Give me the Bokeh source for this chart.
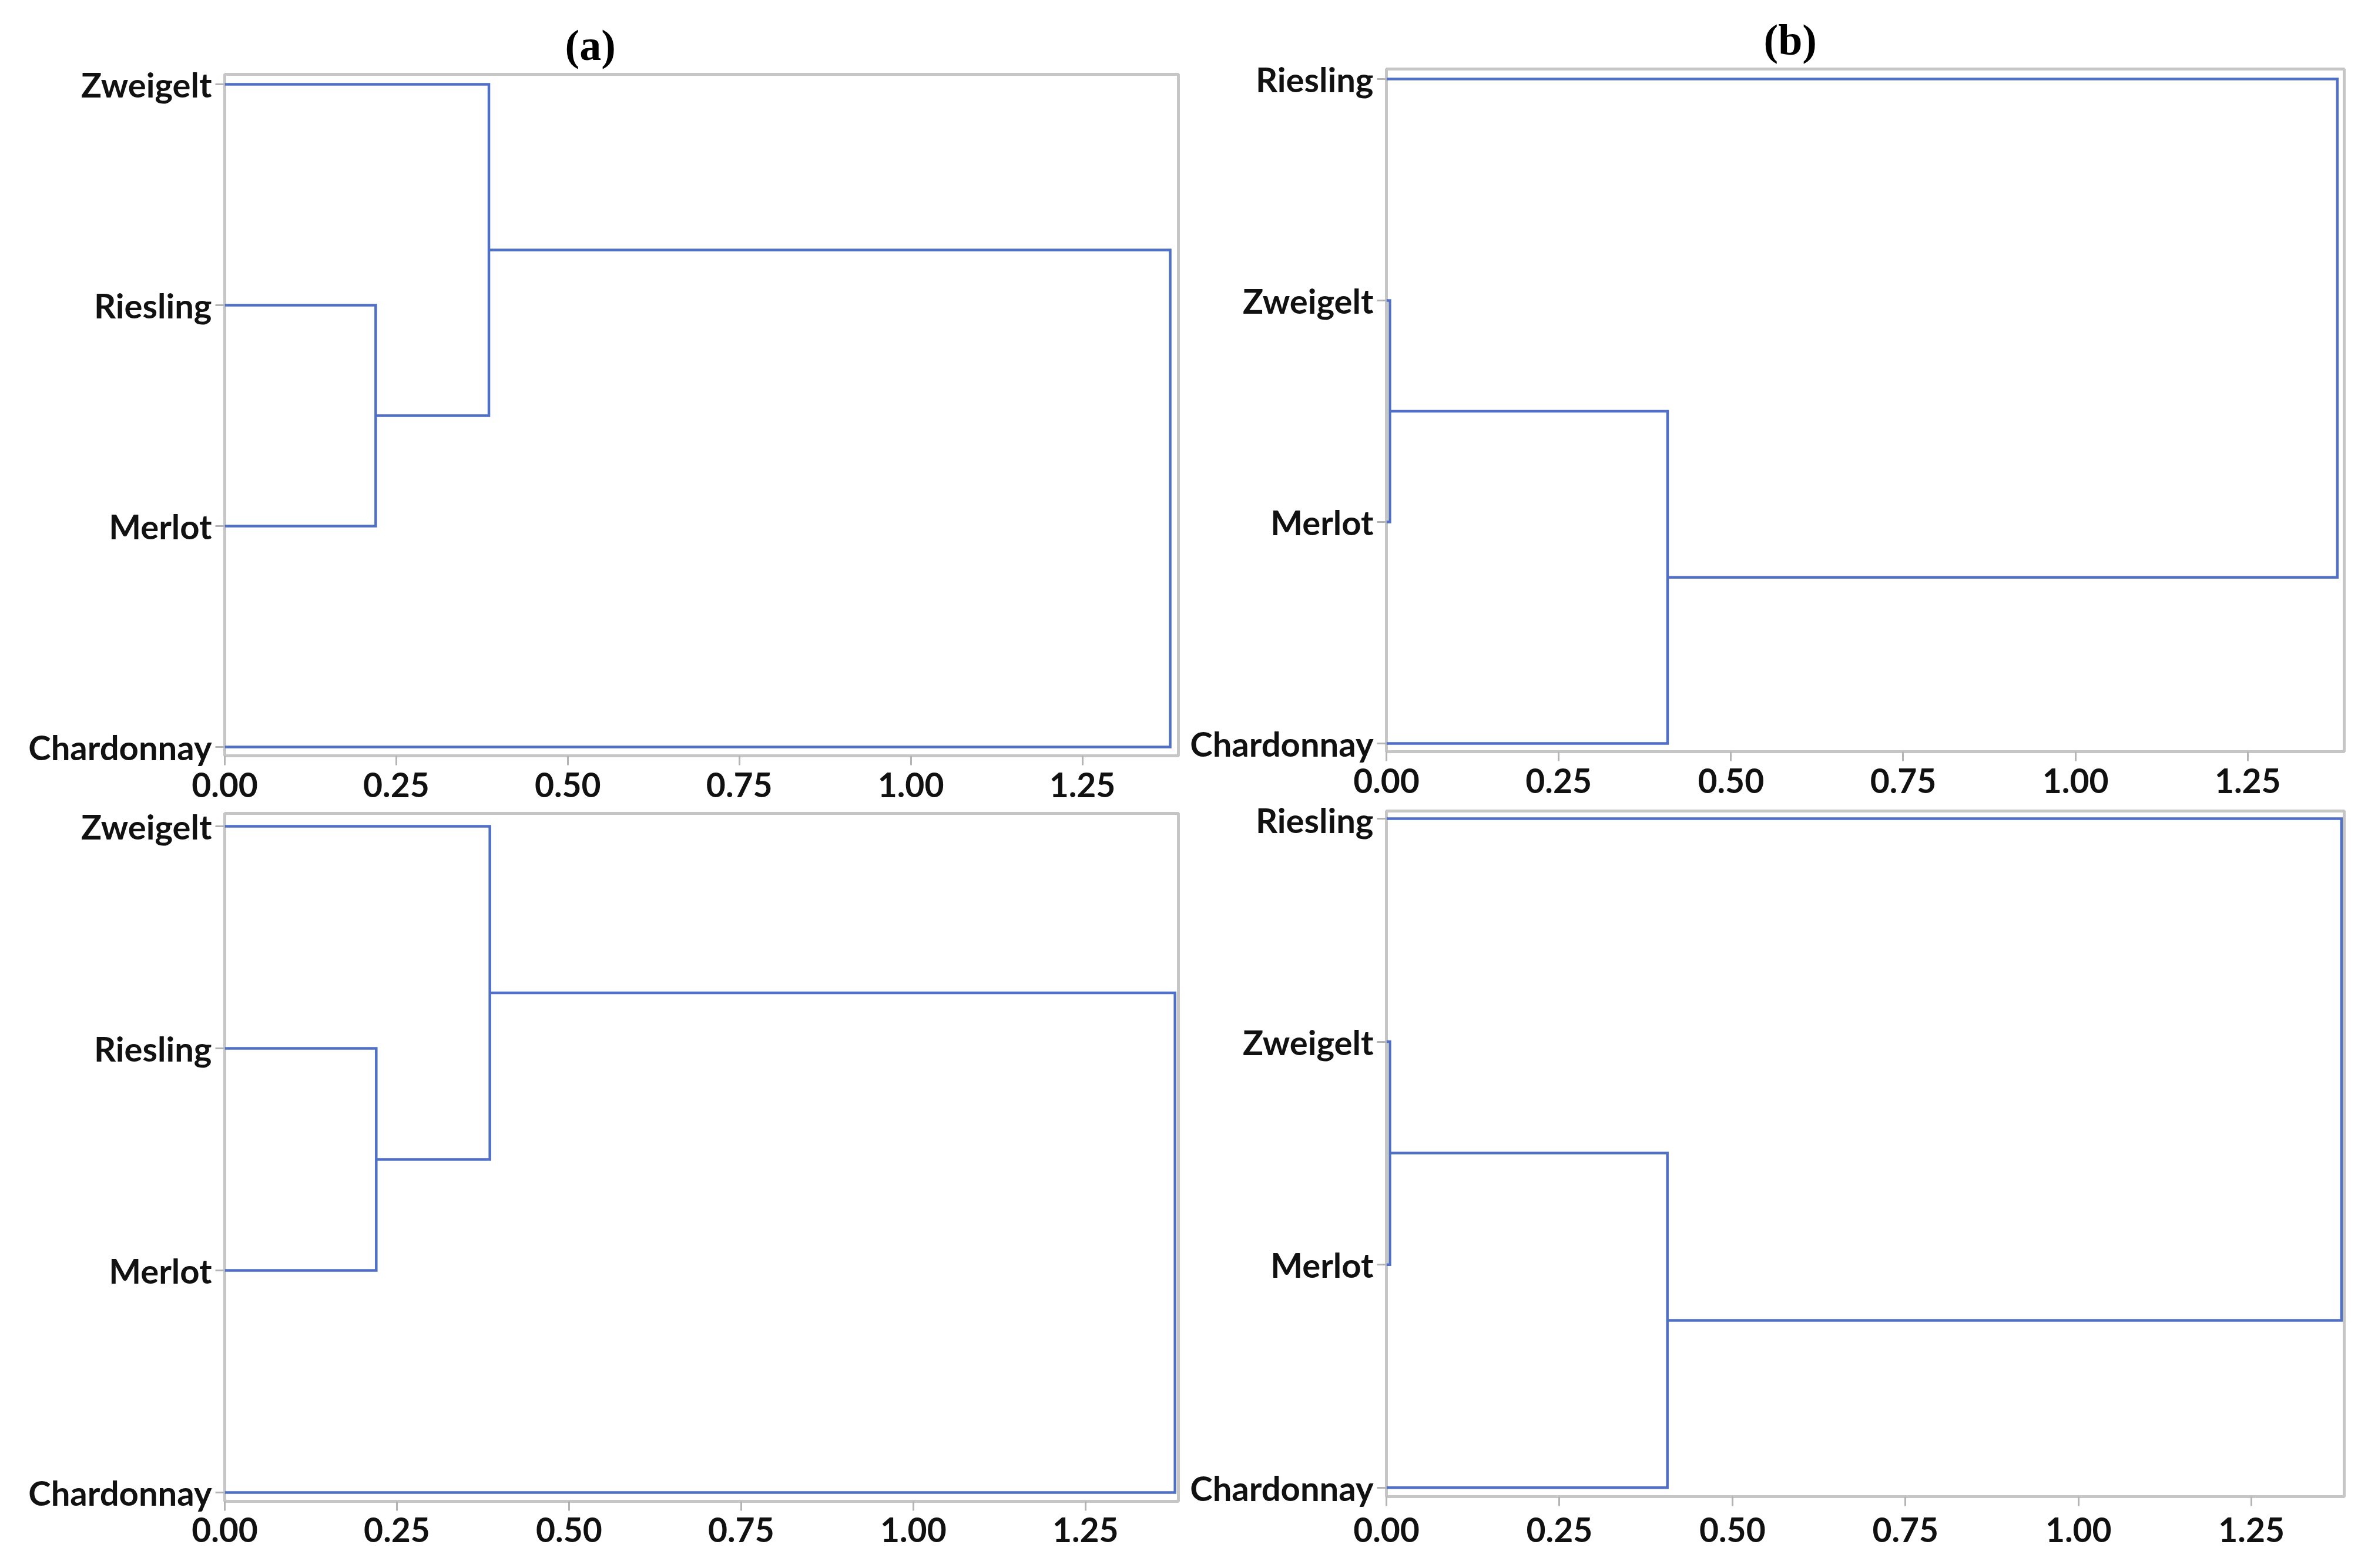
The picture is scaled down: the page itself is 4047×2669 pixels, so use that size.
from bokeh.plotting import figure
from bokeh.layouts import row, column
from bokeh.models import Range1d, FixedTicker, PrintfTickFormatter
from bokeh.embed import file_html
from bokeh.resources import INLINE

# ---------------- data ----------------
# leaf order (top to bottom) and merges (scipy-like: child indices, merge height)
a_leaves = ["Zweigelt", "Riesling", "Merlot", "Chardonnay"]
a_child1 = [1, 0, 5]
a_child2 = [2, 4, 3]
a_heights = [0.22, 0.385, 1.378]

b_leaves = ["Riesling", "Zweigelt", "Merlot", "Chardonnay"]
b_child1 = [1, 4, 0]
b_child2 = [2, 3, 5]
b_heights = [0.005, 0.408, 1.38]

c_leaves = ["Zweigelt", "Riesling", "Merlot", "Chardonnay"]
c_child1 = [1, 0, 5]
c_child2 = [2, 4, 3]
c_heights = [0.22, 0.385, 1.38]

d_leaves = ["Riesling", "Zweigelt", "Merlot", "Chardonnay"]
d_child1 = [1, 4, 0]
d_child2 = [2, 3, 5]
d_heights = [0.005, 0.406, 1.38]

x_ticks = [0.0, 0.25, 0.5, 0.75, 1.0, 1.25]
panel_titles = ["(a)", "(b)", "", ""]

LINE = "#5070c8"
GRID = "#c6c6c6"
FONT = "Lato"


def dendro(leaves, c1, c2, h):
    n = len(leaves)
    ys = list(range(n))
    hs = [0.0] * n
    xs_p, ys_p = [], []
    for a, b, H in zip(c1, c2, h):
        xs_p.append([hs[a], H, H, hs[b]])
        ys_p.append([ys[a], ys[a], ys[b], ys[b]])
        ys.append((ys[a] + ys[b]) / 2.0)
        hs.append(H)
    return xs_p, ys_p


def make(leaves, c1, c2, h, title, W, Hh, bl, br, bt, bb, xend, pad_top, pad_bot, toff, xstand):
    n = len(leaves)
    p = figure(width=W, height=Hh,
               x_range=Range1d(0, xend),
               y_range=Range1d(n - 1 + pad_bot, -pad_top),
               output_backend="svg", toolbar_location=None,
               min_border_left=bl, min_border_right=br,
               min_border_top=bt, min_border_bottom=bb)
    p.background_fill_color = "white"
    p.border_fill_color = "white"
    p.outline_line_color = GRID
    p.outline_line_width = 5
    p.xgrid.visible = False
    p.ygrid.visible = False

    xs_p, ys_p = dendro(leaves, c1, c2, h)
    p.multi_line(xs_p, ys_p, line_color=LINE, line_width=4.5, line_join="miter")

    p.xaxis.ticker = FixedTicker(ticks=x_ticks)
    p.xaxis.formatter = PrintfTickFormatter(format="%.2f")
    p.yaxis.ticker = FixedTicker(ticks=list(range(n)))
    p.yaxis.major_label_overrides = {i: nm for i, nm in enumerate(leaves)}
    for ax in (p.xaxis, p.yaxis):
        ax.axis_line_color = None
        ax.major_tick_line_color = "#b4b4b4"
        ax.major_tick_line_width = 3
        ax.major_tick_in = 0
        ax.minor_tick_line_color = None
        ax.major_label_text_font = FONT
        ax.major_label_text_font_style = "bold"
        ax.major_label_text_color = "#111111"
    p.xaxis.major_label_text_font_size = "57px"
    p.yaxis.major_label_text_font_size = "58px"
    p.xaxis.major_tick_out = 16
    p.xaxis.major_label_standoff = xstand
    p.yaxis.major_tick_out = 16
    p.yaxis.major_label_standoff = 6

    if title:
        p.title.text = title
        p.title.align = "left"
        p.title.offset = toff
        p.title.text_font = "Liberation Serif"
        p.title.text_font_style = "bold"
        p.title.text_font_size = "74px"
        p.title.text_color = "black"
        p.title.standoff = 18
    return p


pa = make(a_leaves, a_child1, a_child2, a_heights, panel_titles[0],
          2017, 1370, 382, 9, 126, 84, 1.39, 0.045, 0.04, 579, 12)
pc = make(c_leaves, c_child1, c_child2, c_heights, panel_titles[2],
          2017, 1283, 371, 12, 14, 98, 1.385, 0.058, 0.04, 0, 11)
pb = make(b_leaves, b_child1, b_child2, b_heights, panel_titles[1],
          2014, 1360, 340, 42, 117, 81, 1.39, 0.045, 0.037, 642, 12)
pd = make(d_leaves, d_child1, d_child2, d_heights, panel_titles[3],
          2014, 1293, 342, 33, 20, 106, 1.384, 0.034, 0.04, 0, 19)

layout = row(column(pa, pc), column(pb, pd))
open("out.html", "w").write(file_html(layout, INLINE))
